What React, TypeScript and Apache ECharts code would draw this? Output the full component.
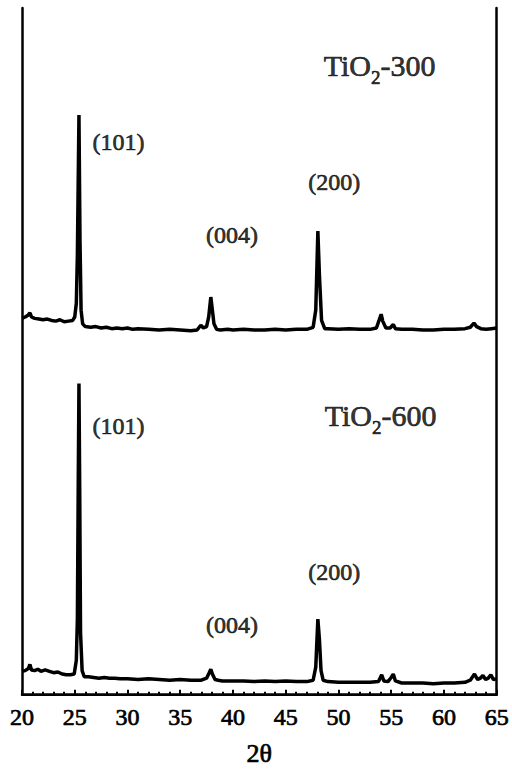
import React, { useEffect, useRef } from "react";
import * as echarts from "echarts";

// 2θ positions (degrees) and intensities (a.u., stacked on a common 0–1000 scale)
const x300 = [20.0, 20.3, 20.6, 20.75, 20.9, 21.2, 21.6, 22.0, 22.4, 22.8, 23.2, 23.6, 24.0, 24.4, 24.8, 25.0, 25.15, 25.25, 25.4, 25.5, 25.6, 25.75, 26.0, 26.5, 27.0, 27.5, 28.0, 28.5, 29.0, 29.5, 30.0, 30.5, 31, 32, 33, 34, 35, 36, 36.6, 36.95, 37.2, 37.5, 37.7, 37.9, 38.05, 38.2, 38.45, 38.8, 39.5, 40, 41, 42, 43, 44, 45, 46, 47, 47.6, 47.85, 48.05, 48.2, 48.4, 48.7, 49, 50, 51, 52, 53, 53.6, 53.85, 54.05, 54.2, 54.5, 54.9, 55.2, 55.4, 56, 57, 58, 59, 60, 61, 62, 62.5, 62.85, 63.1, 63.5, 64, 64.5, 65];
const y300 = [548, 550, 553, 556, 550, 548, 547, 546, 547, 545, 544, 546, 543, 544, 545, 550, 570, 640, 844, 660, 560, 540, 536, 535, 536, 534, 535, 533, 534, 533, 534, 532, 533, 532, 531, 532, 531, 530, 531, 538, 534, 536, 550, 579, 560, 540, 532, 531, 532, 531, 532, 531, 531, 532, 531, 532, 532, 535, 560, 675, 610, 545, 533, 533, 532, 533, 532, 532, 534, 545, 554, 544, 534, 534, 539, 533, 532, 532, 531, 531, 532, 532, 533, 535, 541, 536, 533, 532, 533, 534];

const x600 = [20.0, 20.3, 20.6, 20.75, 20.9, 21.2, 21.5, 21.8, 22.2, 22.6, 23.0, 23.4, 23.8, 24.2, 24.6, 24.95, 25.15, 25.25, 25.33, 25.4, 25.47, 25.55, 25.7, 25.9, 26.3, 26.8, 27.3, 27.8, 28.3, 28.8, 29.3, 30, 31, 32, 33, 34, 35, 36, 37, 37.5, 37.75, 37.9, 38.05, 38.3, 38.6, 39, 40, 41, 42, 43, 44, 45, 46, 47, 47.6, 47.85, 48.05, 48.2, 48.35, 48.55, 49, 50, 51, 52, 53, 53.8, 54.1, 54.3, 54.7, 55.0, 55.2, 55.4, 56, 57, 58, 59, 60, 61, 62, 62.5, 62.9, 63.2, 63.45, 63.7, 63.95, 64.2, 64.45, 64.7, 65];
const y600 = [34, 35, 38, 44, 36, 35, 37, 34, 36, 34, 32, 33, 30, 29, 29, 30, 50, 110, 300, 453, 300, 90, 35, 26, 26, 25, 24, 25, 24, 24, 23, 23, 22, 23, 22, 21, 22, 21, 21, 24, 32, 37, 30, 22, 21, 20, 20, 20, 19, 20, 19, 20, 19, 19, 21, 40, 110, 80, 35, 21, 19, 18, 18, 18, 18, 19, 29, 20, 19, 25, 30, 20, 17, 17, 17, 16, 17, 17, 18, 21, 30, 22, 24, 28, 22, 24, 29, 22, 23];

// Annotations: [2θ, intensity, text]
const peakLabels: [number, number, string][] = [
  [29.15, 805, "(101)"],
  [39.9, 670, "(004)"],
  [49.6, 747, "(200)"],
  [29.15, 391, "(101)"],
  [39.9, 101, "(004)"],
  [49.6, 179, "(200)"],
];
const sampleLabels: [number, number, string, string][] = [
  [53.9, 914, "TiO", "-300"],
  [54.0, 404, "TiO", "-600"],
];

const xTicks = [20, 25, 30, 35, 40, 45, 50, 55, 60, 65];

const FONT = "'Liberation Serif', 'Times New Roman', serif";
const HEAVY = { textBorderColor: "#000", textBorderWidth: 0.7 };

function zip(xs: number[], ys: number[]) {
  return xs.map((x, i) => [x, ys[i]]);
}

export default function App() {
  const ref = useRef<HTMLDivElement>(null);
  useEffect(() => {
    if (!ref.current) return;
    const chart = echarts.init(ref.current, undefined, { renderer: "svg" });
    const lineStyle = { color: "#000", width: 3.5 };
    chart.setOption({
      animation: false,
      backgroundColor: "#fff",
      grid: { left: 22, right: 13, top: 8, bottom: 71 },
      xAxis: [
        {
          type: "value",
          min: xTicks[0],
          max: xTicks[xTicks.length - 1],
          interval: 5,
          position: "bottom",
          name: "2θ",
          nameLocation: "middle",
          nameGap: 46,
          nameTextStyle: { fontFamily: FONT, fontSize: 26, color: "#000", ...HEAVY },
          axisLine: { show: true, lineStyle: { color: "#000", width: 2.5 } },
          axisTick: { show: true, inside: true, length: 5, lineStyle: { color: "#000", width: 2 } },
          minorTick: { show: true, splitNumber: 5, length: 3, lineStyle: { color: "#000", width: 2 } },
          axisLabel: { fontFamily: FONT, fontSize: 24, color: "#000", margin: 10, ...HEAVY },
          splitLine: { show: false },
        },
        {
          type: "value",
          min: 20,
          max: 65,
          position: "top",
          axisLine: { show: true, lineStyle: { color: "#000", width: 2 } },
          axisTick: { show: false },
          axisLabel: { show: false },
          splitLine: { show: false },
        },
      ],
      yAxis: [
        {
          type: "value",
          min: 0,
          max: 1000,
          position: "left",
          axisLine: { show: true, lineStyle: { color: "#000", width: 2.5 } },
          axisTick: { show: false },
          axisLabel: { show: false },
          splitLine: { show: false },
        },
        {
          type: "value",
          min: 0,
          max: 1000,
          position: "right",
          axisLine: { show: true, lineStyle: { color: "#000", width: 2.5 } },
          axisTick: { show: false },
          axisLabel: { show: false },
          splitLine: { show: false },
        },
      ],
      series: [
        {
          name: "TiO2-300",
          type: "line",
          data: zip(x300, y300),
          showSymbol: false,
          lineStyle,
          z: 3,
        },
        {
          name: "TiO2-600",
          type: "line",
          data: zip(x600, y600),
          showSymbol: false,
          lineStyle,
          z: 3,
        },
        {
          type: "scatter",
          data: peakLabels.map((p) => ({ value: [p[0], p[1]], name: p[2] })),
          symbolSize: 0,
          silent: true,
          label: {
            show: true,
            position: "inside",
            formatter: (p: any) => p.name,
            fontFamily: FONT,
            fontSize: 24,
            color: "#000",
            ...HEAVY,
          },
          z: 4,
        },
        {
          type: "scatter",
          data: sampleLabels.map((p) => ({ value: [p[0], p[1]], name: p[2], sfx: p[3] })),
          symbolSize: 0,
          silent: true,
          label: {
            show: true,
            position: "inside",
            formatter: (p: any) => `{n|${p.data.name}}{s|2}{n|${p.data.sfx}}`,
            rich: {
              n: { fontFamily: FONT, fontSize: 30, lineHeight: 34, verticalAlign: "top", color: "#000", ...HEAVY },
              s: {
                fontFamily: FONT,
                fontSize: 19,
                lineHeight: 20,
                verticalAlign: "top",
                padding: [18, 0, 0, 0],
                color: "#000",
                ...HEAVY,
              },
            },
          },
          z: 4,
        },
      ],
    });
    return () => chart.dispose();
  }, []);
  return (
    <div
      ref={ref}
      style={{ position: "absolute", left: 0, top: 0, width: 512, height: 772, background: "#fff" }}
    />
  );
}
